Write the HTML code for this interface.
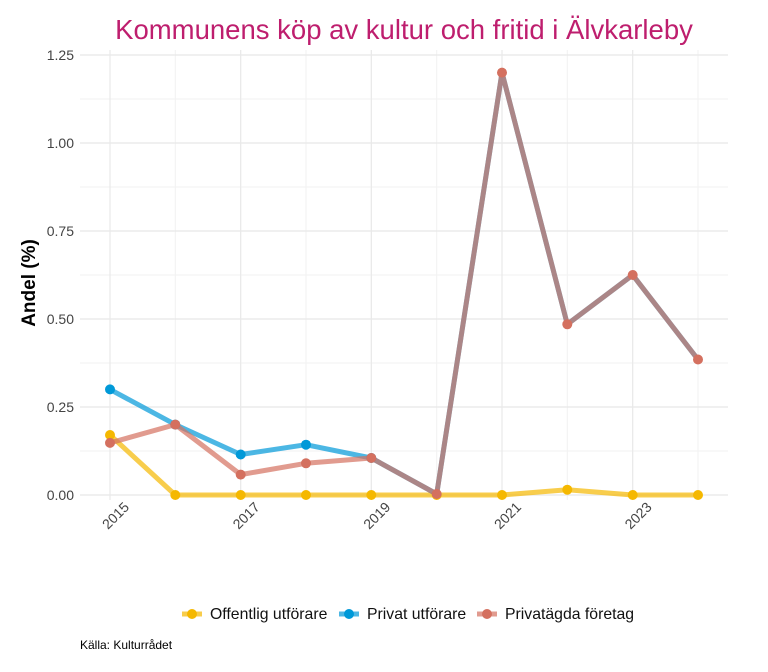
<!DOCTYPE html>
<html><head><meta charset="utf-8"><style>
body{margin:0;background:#fff;}
svg{display:block;font-family:"Liberation Sans",sans-serif;}
</style></head><body>
<svg width="768" height="672" viewBox="0 0 768 672" xmlns="http://www.w3.org/2000/svg">
<rect width="768" height="672" fill="#fff"/>
<text x="404" y="39" text-anchor="middle" font-size="27.5" fill="#BE1E6E">Kommunens köp av kultur och fritid i Älvkarleby</text>
<g stroke="#f2f2f2" stroke-width="1">
<line x1="80" x2="728" y1="451" y2="451"/><line x1="80" x2="728" y1="363" y2="363"/><line x1="80" x2="728" y1="275" y2="275"/><line x1="80" x2="728" y1="187" y2="187"/><line x1="80" x2="728" y1="99" y2="99"/>
<line x1="175.3" x2="175.3" y1="50" y2="500"/><line x1="306" x2="306" y1="50" y2="500"/><line x1="436.7" x2="436.7" y1="50" y2="500"/><line x1="567.3" x2="567.3" y1="50" y2="500"/><line x1="698" x2="698" y1="50" y2="500"/>
</g>
<g stroke="#e8e8e8" stroke-width="1.2">
<line x1="80" x2="728" y1="495" y2="495"/><line x1="80" x2="728" y1="407" y2="407"/><line x1="80" x2="728" y1="319" y2="319"/><line x1="80" x2="728" y1="231" y2="231"/><line x1="80" x2="728" y1="143" y2="143"/><line x1="80" x2="728" y1="55" y2="55"/>
<line x1="110" x2="110" y1="50" y2="500"/><line x1="240.7" x2="240.7" y1="50" y2="500"/><line x1="371.3" x2="371.3" y1="50" y2="500"/><line x1="502" x2="502" y1="50" y2="500"/><line x1="632.7" x2="632.7" y1="50" y2="500"/>
</g>
<g font-size="14" fill="#444" text-anchor="end">
<text x="74" y="500">0.00</text><text x="74" y="412">0.25</text><text x="74" y="324">0.50</text><text x="74" y="236">0.75</text><text x="74" y="148">1.00</text><text x="74" y="60">1.25</text>
</g>
<g font-size="14" fill="#444" text-anchor="end">
<text transform="translate(130,508) rotate(-45)">2015</text>
<text transform="translate(260.7,508) rotate(-45)">2017</text>
<text transform="translate(391.3,508) rotate(-45)">2019</text>
<text transform="translate(522,508) rotate(-45)">2021</text>
<text transform="translate(652.7,508) rotate(-45)">2023</text>
</g>
<text transform="translate(35,283) rotate(-90)" text-anchor="middle" font-size="19" font-weight="bold" fill="#000">Andel (%)</text>
<g fill="none" stroke-width="5" stroke-linejoin="round" stroke-opacity="0.7">
<polyline stroke="#F5B800" points="110,435 175.3,495 240.7,495 306,495 371.3,495 436.7,495 502,495 567.3,489.7 632.7,495 698,495"/>
<polyline stroke="#0099D8" points="110,389.4 175.3,424.6 240.7,454.5 306,444.7 371.3,458 436.7,494 502,72.6 567.3,324.3 632.7,275 698,359.5"/>
<polyline stroke="#D4705F" points="110,442.9 175.3,424.6 240.7,474.6 306,463.3 371.3,458 436.7,494 502,72.6 567.3,324.3 632.7,275 698,359.5"/>
</g>
<g fill="#F5B800">
<circle cx="110" cy="435" r="5"/><circle cx="175.3" cy="495" r="5"/><circle cx="240.7" cy="495" r="5"/><circle cx="306" cy="495" r="5"/><circle cx="371.3" cy="495" r="5"/><circle cx="436.7" cy="495" r="5"/><circle cx="502" cy="495" r="5"/><circle cx="567.3" cy="489.7" r="5"/><circle cx="632.7" cy="495" r="5"/><circle cx="698" cy="495" r="5"/>
</g>
<g fill="#0099D8">
<circle cx="110" cy="389.4" r="5"/><circle cx="175.3" cy="424.6" r="5"/><circle cx="240.7" cy="454.5" r="5"/><circle cx="306" cy="444.7" r="5"/><circle cx="371.3" cy="458" r="5"/>
</g>
<g fill="#D4705F">
<circle cx="110" cy="442.9" r="5"/><circle cx="175.3" cy="424.6" r="5"/><circle cx="240.7" cy="474.6" r="5"/><circle cx="306" cy="463.3" r="5"/><circle cx="371.3" cy="458" r="5"/><circle cx="436.7" cy="494" r="5"/><circle cx="502" cy="72.6" r="5"/><circle cx="567.3" cy="324.3" r="5"/><circle cx="632.7" cy="275" r="5"/><circle cx="698" cy="359.5" r="5"/>
</g>
<g font-size="15.8" fill="#111">
<line x1="182" x2="202" y1="614" y2="614" stroke="#F5B800" stroke-width="5" stroke-opacity="0.7"/><circle cx="192" cy="614" r="5" fill="#F5B800"/>
<text x="210" y="619">Offentlig utförare</text>
<line x1="339" x2="359" y1="614" y2="614" stroke="#0099D8" stroke-width="5" stroke-opacity="0.7"/><circle cx="349" cy="614" r="5" fill="#0099D8"/>
<text x="367" y="619">Privat utförare</text>
<line x1="477" x2="497" y1="614" y2="614" stroke="#D4705F" stroke-width="5" stroke-opacity="0.7"/><circle cx="487" cy="614" r="5" fill="#D4705F"/>
<text x="505" y="619">Privatägda företag</text>
</g>
<text x="80" y="649" font-size="12" fill="#000">Källa: Kulturrådet</text>
</svg>
</body></html>
